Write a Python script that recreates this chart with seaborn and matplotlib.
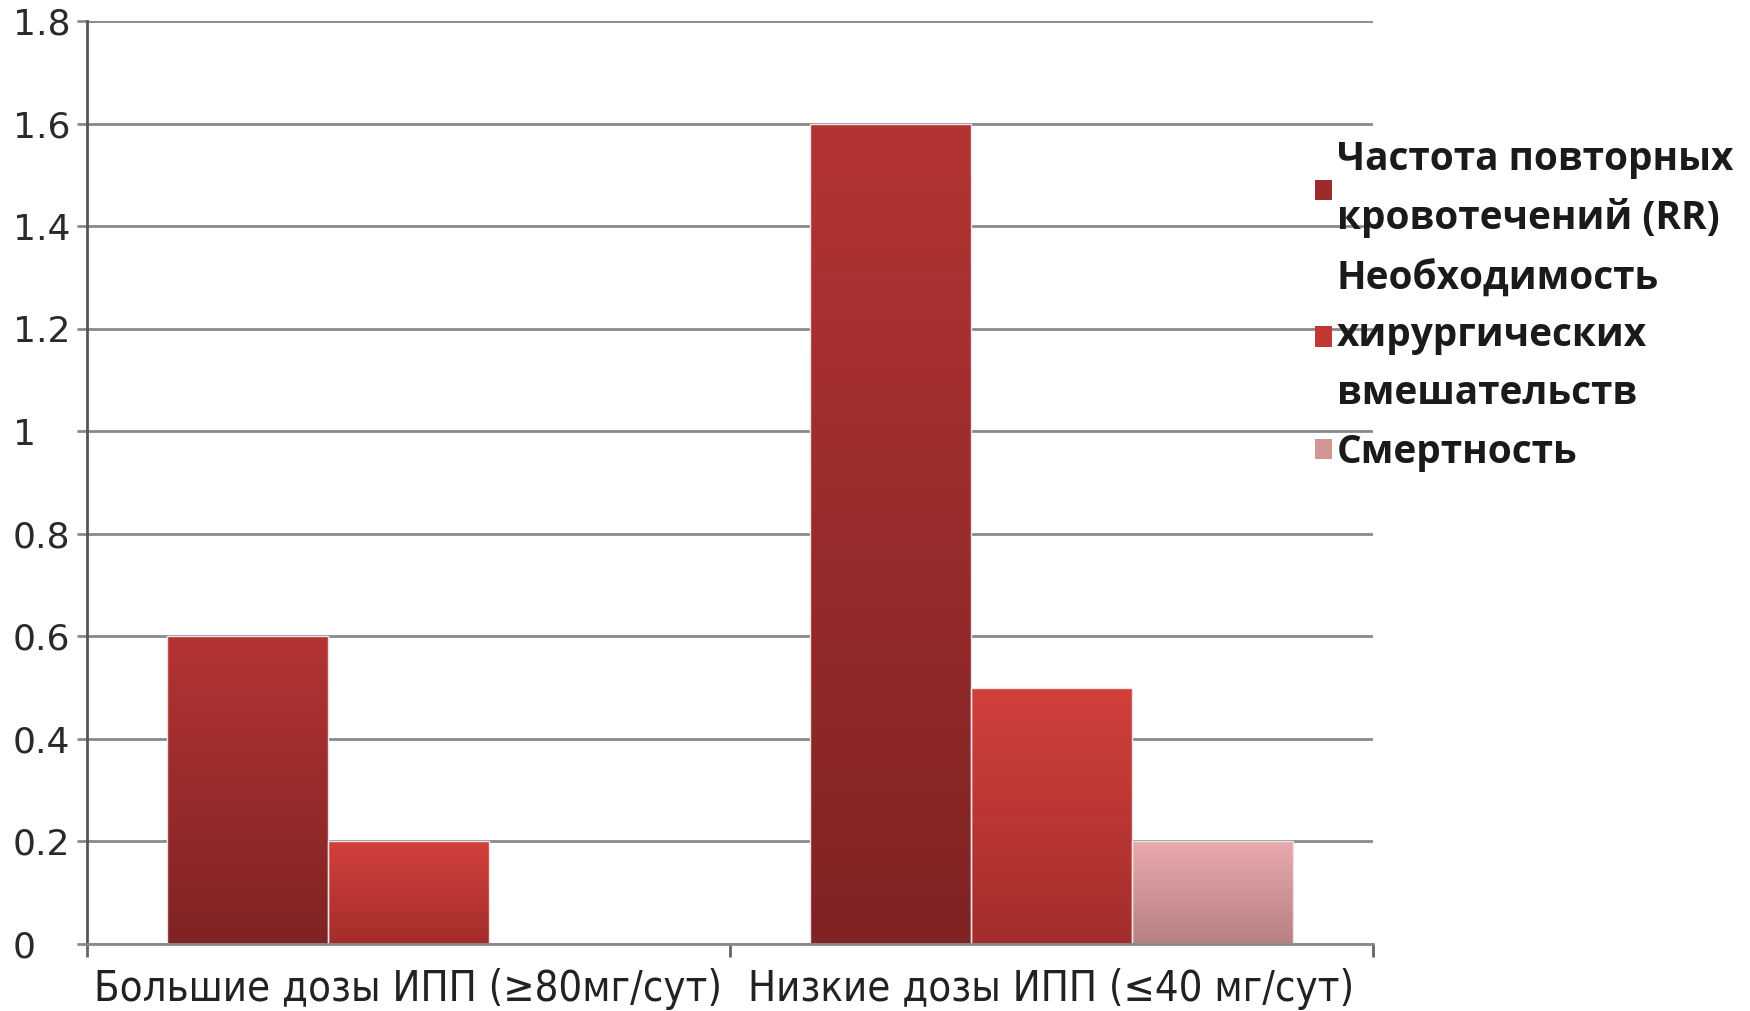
import numpy as np
import pandas as pd
import matplotlib
matplotlib.use("Agg")
import matplotlib.pyplot as plt
import seaborn as sns
from matplotlib.colors import LinearSegmentedColormap

# --- data -------------------------------------------------------------
groups = ["Большие дозы ИПП (≥80мг/сут)", "Низкие дозы ИПП (≤40 мг/сут)"]
series = [
    "Частота повторных\nкровотечений (RR)",
    "Необходимость\nхирургических\nвмешательств",
    "Смертность",
]
rebleeding_rr = [0.6, 1.6]
surgery_need = [0.2, 0.5]
mortality = [0.0, 0.2]

y_ticks = [0, 0.2, 0.4, 0.6, 0.8, 1.0, 1.2, 1.4, 1.6, 1.8]
y_tick_labels = ["0", "0.2", "0.4", "0.6", "0.8", "1", "1.2", "1.4", "1.6", "1.8"]

df = pd.DataFrame({
    "group": groups * 3,
    "series": [s for s in series for _ in groups],
    "value": rebleeding_rr + surgery_need + mortality,
})

# top / bottom colours of each series' vertical gradient
grad_top = ["#b43434", "#d2403b", "#e9aaac"]
grad_bot = ["#7f2324", "#a32d2b", "#b78082"]
mid = ["#9c2b2c", "#c03733", "#d49597"]

sns.set_theme(style="white")
plt.rcParams["font.family"] = ["DejaVu Sans"]

W, H = 1750, 1011
fig = plt.figure(figsize=(W / 100, H / 100), dpi=100)
left, right, top, bottom = 87, 1373, 21, 944
ax = fig.add_axes([left / W, 1 - bottom / H, (right - left) / W, (bottom - top) / H])

sns.barplot(data=df, x="group", y="value", hue="series", hue_order=series,
            order=groups, palette=mid, width=0.75, edgecolor="#ece4e4",
            linewidth=1.0, legend=False, ax=ax)

ax.set_xlim(-0.5, 1.5)
ax.set_ylim(0, 1.8)

# vertical gradient fill clipped to each bar
for cont, ct, cb in zip(ax.containers, grad_top, grad_bot):
    cmap = LinearSegmentedColormap.from_list("g", [cb, ct])
    for bar in cont:
        h = bar.get_height()
        if h <= 0:
            bar.set_visible(False)
            continue
        x0, w = bar.get_x(), bar.get_width()
        grad = np.linspace(1, 0, 256).reshape(-1, 1)
        im = ax.imshow(grad, extent=[x0, x0 + w, 0, h], aspect="auto",
                       cmap=cmap, vmin=0, vmax=1, origin="upper",
                       zorder=bar.get_zorder() + 0.05, interpolation="bilinear")
        im.set_clip_path(bar)
        bar.set_facecolor("none")
        bar.set_zorder(bar.get_zorder() + 0.1)

ax.set_xlim(-0.5, 1.5)
ax.set_ylim(0, 1.8)

# grid and spines
ax.set_axisbelow(True)
ax.set_yticks(y_ticks)
ax.set_yticklabels(y_tick_labels)
ax.yaxis.grid(True, color="#8a8a8a", linewidth=2.0)
ax.xaxis.grid(False)
for s in ["top", "right"]:
    ax.spines[s].set_visible(False)
ax.spines["left"].set_color("#555555")
ax.spines["left"].set_linewidth(2.0)
ax.spines["bottom"].set_color("#8a8a8a")
ax.spines["bottom"].set_linewidth(2.0)

ax.tick_params(axis="y", which="major", left=True, length=7.5, width=2,
               color="#8a8a8a", pad=46, labelsize=26, labelcolor="#2a2a2a")
for lbl in ax.get_yticklabels():
    lbl.set_ha("left")

# category boundaries as ticks, names centred under each group
ax.set_xticks([-0.5, 0.5, 1.5])
ax.set_xticklabels(["", "", ""])
ax.set_xticks([0, 1], minor=True)
ax.set_xticklabels(groups, minor=True)
ax.tick_params(axis="x", which="major", bottom=True, length=9, width=2,
               color="#666666")
ax.tick_params(axis="x", which="minor", bottom=True, length=0, pad=17,
               labelsize=30, labelcolor="#222222")
for lbl in ax.get_xticklabels(minor=True):
    lbl.set_fontfamily(["DejaVu Sans"])
    lbl.set_fontstretch("condensed")
ax.set_xlabel("")
ax.set_ylabel("")

# legend
handles = [plt.Rectangle((0, 0), 1, 1, facecolor=c, edgecolor="none") for c in mid]
leg = fig.legend(handles, series, loc="upper left",
                 bbox_to_anchor=(1315 / W, 1 - 140 / H), frameon=False,
                 prop={"family": ["Open Sans", "DejaVu Sans"], "weight": "bold",
                       "size": 27.9},
                 handlelength=0.43, handleheight=0.43, handletextpad=0.13,
                 labelspacing=0.52, borderpad=0, borderaxespad=0)
for t in leg.get_texts():
    t.set_linespacing(1.62)
    t.set_color("#1a1a1a")

fig.savefig("out.png", dpi=100, facecolor="white")
